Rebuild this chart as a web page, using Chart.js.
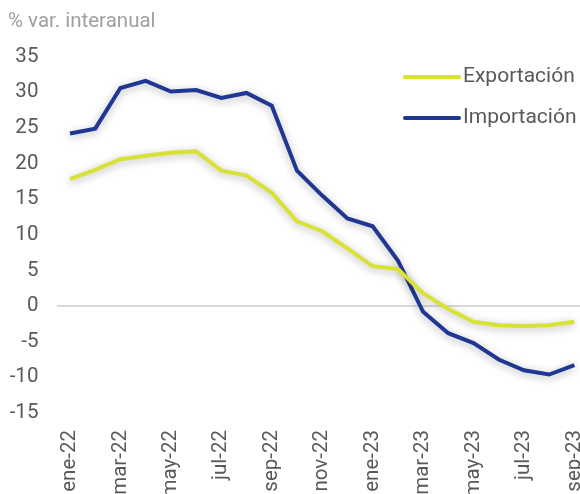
<!DOCTYPE html>
<html>
<head>
<meta charset="utf-8">
<script src="https://cdn.jsdelivr.net/npm/chart.js@4/dist/chart.umd.min.js"></script>
<style>
  html, body { margin: 0; padding: 0; background: #fff; overflow: hidden; }
  #chart { display: block; }
</style>
</head>
<body>
<canvas id="chart" width="616" height="503"></canvas>
<script>
const months = [
  "ene-22", "feb-22", "mar-22", "abr-22", "may-22", "jun-22", "jul-22",
  "ago-22", "sep-22", "oct-22", "nov-22", "dic-22", "ene-23", "feb-23",
  "mar-23", "abr-23", "may-23", "jun-23", "jul-23", "ago-23", "sep-23"
];
const exportacion = [
  17.8, 19.1, 20.6, 21.1, 21.5, 21.7, 19.0, 18.3, 15.9, 11.9, 10.5,
  8.1, 5.6, 5.2, 1.8, -0.4, -2.2, -2.7, -2.8, -2.7, -2.2
];
const importacion = [
  24.2, 24.9, 30.6, 31.6, 30.1, 30.3, 29.2, 29.9, 28.1, 19.0, 15.5,
  12.3, 11.2, 6.4, -0.8, -3.8, -5.2, -7.5, -9.0, -9.6, -8.3
];
const yTicks = { min: -15, max: 35, step: 5 };

const textColor = "#595959";
const fontFamily = "Roboto, 'Noto Sans', sans-serif";

// soft shadow under the lines, like the original
const lineShadow = {
  id: "lineShadow",
  beforeDatasetsDraw(chart) {
    const ctx = chart.ctx;
    ctx.save();
    ctx.shadowColor = "rgba(0,0,0,0.3)";
    ctx.shadowBlur = 8;
    ctx.shadowOffsetX = 0;
    ctx.shadowOffsetY = 2;
  },
  afterDatasetsDraw(chart) {
    chart.ctx.restore();
  },
};

// stacked legend in the top right corner
const sideLegend = {
  id: "sideLegend",
  afterDraw(chart) {
    const ctx = chart.ctx;
    const x0 = chart.chartArea.right - 182;
    ctx.save();
    ctx.font = "21px " + fontFamily;
    ctx.textBaseline = "middle";
    chart.data.datasets.forEach((ds, i) => {
      const y = 77 + i * 41;
      ctx.strokeStyle = ds.borderColor;
      ctx.lineWidth = 4;
      ctx.lineCap = "round";
      ctx.beginPath();
      ctx.moveTo(x0, y);
      ctx.lineTo(x0 + 54, y);
      ctx.stroke();
      ctx.fillStyle = textColor;
      ctx.fillText(ds.label, x0 + 58, y);
    });
    ctx.restore();
  },
};

new Chart(document.getElementById("chart").getContext("2d"), {
  type: "line",
  data: {
    labels: months,
    datasets: [
      {
        label: "Exportación",
        data: exportacion,
        borderColor: "#d8e234",
        borderWidth: 4,
        pointRadius: 0,
        tension: 0,
        fill: false,
      },
      {
        label: "Importación",
        data: importacion,
        borderColor: "#1f3793",
        borderWidth: 4,
        pointRadius: 0,
        tension: 0,
        fill: false,
      },
    ],
  },
  options: {
    responsive: false,
    animation: false,
    layout: { padding: { left: 8, right: 0, top: 0, bottom: 0 } },
    plugins: {
      legend: { display: false },
      tooltip: { enabled: false },
      title: {
        display: true,
        text: "% var. interanual",
        align: "start",
        color: "#a0a0a0",
        font: { family: fontFamily, size: 20.5, weight: "normal" },
        padding: { top: 10, bottom: 22 },
      },
    },
    scales: {
      x: {
        offset: true,
        afterFit: (scale) => {
          scale.height = 90;
        },
        grid: { display: false, drawTicks: false },
        border: { display: false },
        ticks: {
          autoSkip: false,
          minRotation: 90,
          maxRotation: 90,
          padding: 17,
          color: textColor,
          font: { family: fontFamily, size: 20.5 },
          callback: function (value, index) {
            return index % 2 === 0 ? this.getLabelForValue(value) : "";
          },
        },
      },
      y: {
        min: yTicks.min,
        max: yTicks.max,
        afterFit: (scale) => {
          scale.width = 49.4;
        },
        border: { display: false },
        grid: {
          drawTicks: false,
          lineWidth: 2,
          color: (c) => (c.tick && c.tick.value === 0 ? "#d9d9d9" : "transparent"),
        },
        ticks: {
          stepSize: yTicks.step,
          padding: 19,
          color: textColor,
          font: { family: fontFamily, size: 20.5 },
        },
      },
    },
  },
  plugins: [lineShadow, sideLegend],
});
</script>
</body>
</html>
